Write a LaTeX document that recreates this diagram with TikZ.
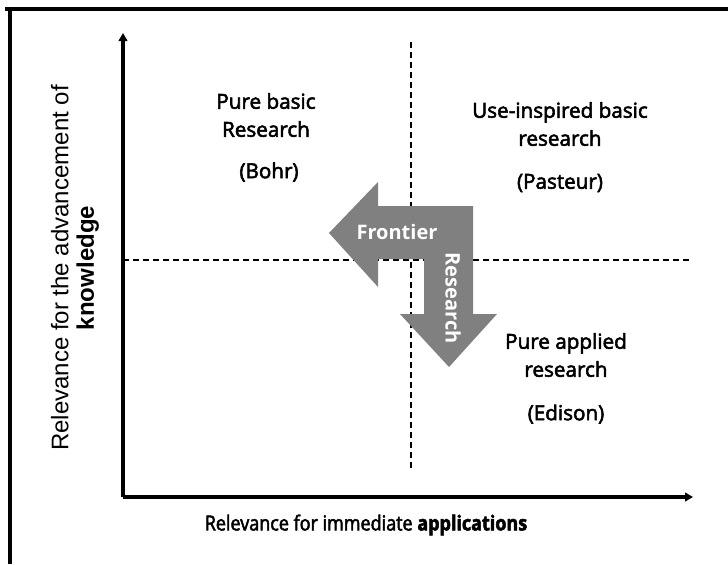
\documentclass[tikz,border=0pt]{standalone}
\usepackage{fontspec}
\setmainfont{Open Sans}
\newfontfamily\axisfont{Liberation Sans}
\newfontfamily\quadfont{Open Sans}[FakeBold=2.6]
\newfontfamily\xfont{Open Sans}[FakeBold=2.4,FakeStretch=0.87]
\usetikzlibrary{arrows.meta}

\definecolor{arrowgray}{RGB}{128,128,128}

\tikzset{
  quadtext/.style={align=center, inner sep=0.75pt, font=\quadfont\fontsize{15.5}{21}\selectfont},
  arrowtext/.style={font=\fontsize{15}{18}\selectfont\bfseries, text=white, inner sep=0.75pt},
  axisline/.style={line width=2.5pt, -{Triangle[length=6pt,width=6.5pt]}},
  splitline/.style={line width=1.2pt, dash pattern=on 4.5pt off 3pt},
}

\begin{document}
\begin{tikzpicture}[x=0.75pt,y=0.75pt,yscale=-1,xscale=1]
        \useasboundingbox (0,0) rectangle (728,564);

        %Frame lines
        \draw [line width=3.4pt] (5,9) -- (728,9) ;
        \draw [line width=3pt] (10,9) -- (10,564) ;

        %Quadrant split lines
        \coordinate (vtop) at (411,42);
        \coordinate (vbot) at (411,470);
        \coordinate (hleft) at (123,260);
        \coordinate (hright) at (692,260);
        \draw [splitline] (vtop) -- (vbot) ;
        \draw [splitline] (hleft) -- (hright) ;

        %Axes
        \coordinate (origin) at (123,497);
        \coordinate (ytop) at (123,33);
        \coordinate (xend) at (693,497);
        \draw [axisline] (origin) -- (ytop) ;
        \draw [axisline] (origin) -- (xend) ;

        %Shape: bent arrow
        \fill [arrowgray] (329,233) -- (378,182) -- (378,206) -- (473,206) -- (473,314) -- (497,314) -- (449,367) -- (400,314) -- (424,314) -- (424,259) -- (378,259) -- (378,287) -- cycle ;

        % Text Node
        \node [arrowtext] (frontier) at (397,232) {Frontier};
        % Text Node
        \node [arrowtext, rotate=-90] (research) at (453,298) {Research};

        % Text Node
        \node [quadtext] (basic) at (266,115) {Pure basic\\Research};
        % Text Node
        \node [quadtext] (bohr) at (269,172) {(Bohr)};
        % Text Node
        \node [quadtext] (inspired) at (560,124) {Use-inspired basic\\research};
        % Text Node
        \node [quadtext] (pasteur) at (560,183) {(Pasteur)};
        % Text Node
        \node [quadtext] (applied) at (566,355) {Pure applied\\research};
        % Text Node
        \node [quadtext] (edison) at (566,414) {(Edison)};

        % Text Node
        \node [inner sep=0.75pt, font=\xfont\fontsize{15.5}{18}\selectfont] (xlabel) at (366,525) {Relevance for immediate \textbf{applications}};
        % Text Node
        \node [inner sep=0.75pt, align=center, rotate=90, font=\axisfont\fontsize{18}{19}\selectfont] (ylabel) at (75,268) {Relevance for the advancement of\\\textbf{knowledge}};

\end{tikzpicture}
\end{document}
